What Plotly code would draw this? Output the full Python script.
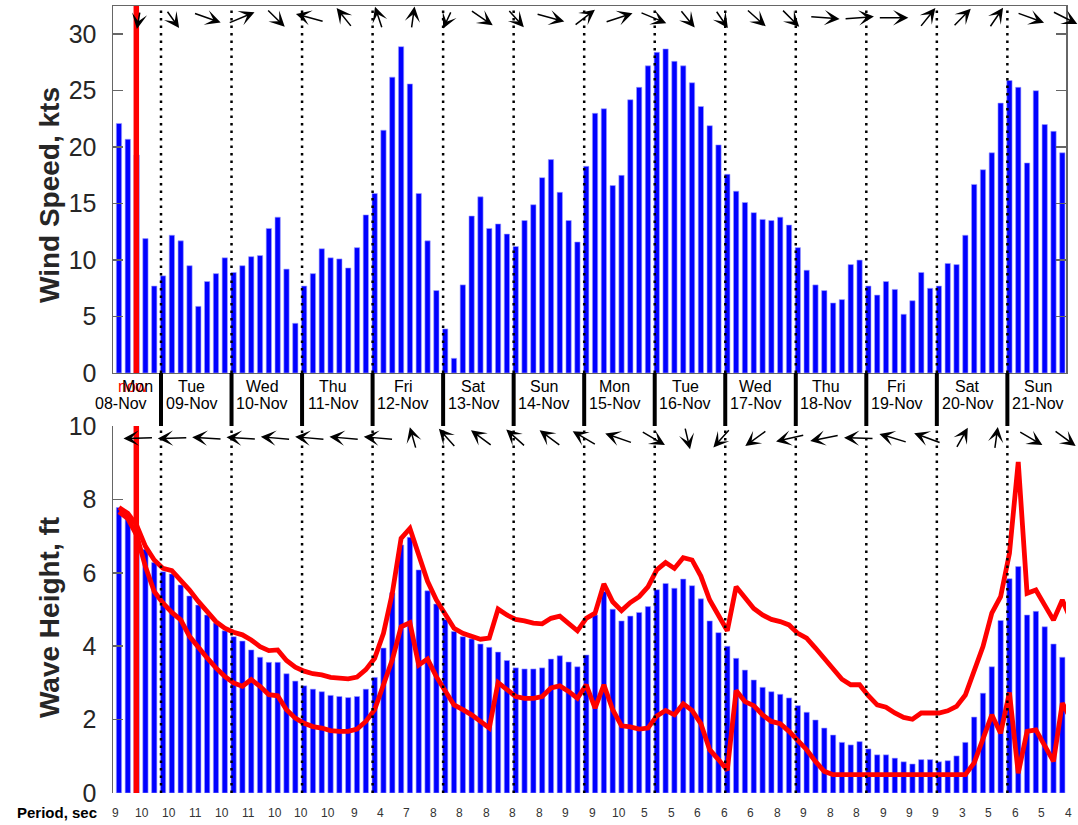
import numpy as np
import pandas as pd
import plotly.graph_objects as go

# ---------------- data ----------------
start_time = "2021-11-08 09:42"      # first 3-hourly forecast step
step_hours = 3
now_time = "2021-11-08 15:36"
x_start, x_end = "2021-11-08 07:40", "2021-11-21 19:57"
arrow_first, arrow_last = "2021-11-08 16:20", "2021-11-21 19:34"

wind_speed_kts = [
    22.1, 20.7, 19.3, 11.9, 7.7, 8.6, 12.2, 11.7, 9.5, 5.9,
    8.1, 8.8, 10.2, 8.9, 9.5, 10.3, 10.4, 12.8, 13.8, 9.2,
    4.4, 7.7, 8.8, 11.0, 10.2, 10.1, 9.3, 11.1, 14.0, 15.9,
    21.5, 26.2, 28.9, 25.6, 15.9, 11.7, 7.3, 3.9, 1.3, 7.8,
    13.9, 15.6, 12.8, 13.2, 12.3, 11.2, 13.5, 14.9, 17.3, 18.9,
    16.0, 13.5, 11.6, 18.3, 23.0, 23.4, 16.6, 17.5, 24.2, 25.3,
    27.2, 28.4, 28.7, 27.6, 27.2, 25.7, 23.6, 21.9, 20.2, 17.6,
    16.1, 15.1, 14.2, 13.6, 13.5, 13.8, 13.1, 11.1, 9.1, 7.8,
    7.3, 6.2, 6.5, 9.6, 10.0, 7.7, 6.9, 8.1, 7.4, 5.2,
    6.4, 8.9, 7.5, 7.7, 9.7, 9.6, 12.2, 16.7, 18.0, 19.5,
    23.9, 25.9, 25.3, 18.6, 25.0, 22.0, 21.4, 19.5]

wave_height_ft = [
    7.78, 7.55, 7.2, 6.64, 6.28, 6.03, 5.97, 5.67, 5.37, 5.12,
    4.85, 4.63, 4.42, 4.26, 4.14, 3.9, 3.7, 3.56, 3.56, 3.25,
    3.05, 2.92, 2.83, 2.76, 2.66, 2.63, 2.6, 2.63, 2.83, 3.15,
    3.95, 5.46, 6.76, 6.97, 6.08, 5.51, 5.15, 4.73, 4.4, 4.26,
    4.2, 4.06, 3.97, 3.84, 3.61, 3.41, 3.38, 3.38, 3.41, 3.65,
    3.74, 3.57, 3.44, 3.76, 4.85, 5.49, 5.01, 4.69, 4.82, 4.92,
    5.08, 5.54, 5.71, 5.58, 5.83, 5.65, 5.29, 4.69, 4.37, 4.0,
    3.67, 3.35, 3.08, 2.88, 2.76, 2.69, 2.59, 2.38, 2.2, 1.99,
    1.77, 1.58, 1.38, 1.31, 1.4, 1.2, 1.04, 1.04, 0.95, 0.85,
    0.79, 0.91, 0.91, 0.85, 0.88, 1.01, 1.38, 2.07, 2.72, 3.44,
    4.7, 5.84, 6.17, 4.85, 4.95, 4.53, 4.06, 3.7]

wave_upper_ft = [
    7.78, 7.62, 7.30, 6.72, 6.35, 6.12, 6.06, 5.81, 5.53, 5.22,
    4.92, 4.67, 4.49, 4.38, 4.31, 4.17, 3.99, 3.88, 3.90, 3.61,
    3.43, 3.32, 3.25, 3.22, 3.15, 3.13, 3.11, 3.16, 3.36, 3.67,
    4.35, 5.44, 6.94, 7.21, 6.49, 5.77, 5.26, 4.90, 4.49, 4.35,
    4.28, 4.19, 4.22, 5.01, 4.85, 4.73, 4.69, 4.63, 4.61, 4.76,
    4.82, 4.63, 4.42, 4.76, 4.90, 5.70, 5.21, 4.97, 5.19, 5.35,
    5.62, 6.08, 6.28, 6.12, 6.41, 6.35, 5.91, 5.26, 4.83, 4.42,
    5.62, 5.30, 5.03, 4.85, 4.73, 4.67, 4.58, 4.35, 4.22, 3.95,
    3.67, 3.40, 3.10, 2.95, 2.95, 2.65, 2.40, 2.34, 2.18, 2.06,
    2.01, 2.18, 2.19, 2.18, 2.24, 2.36, 2.67, 3.31, 3.99, 4.90,
    5.35, 6.53, 9.02, 5.44, 5.53, 5.12, 4.71, 5.26, 4.70]

wave_lower_ft = [
    7.66, 7.48, 7.03, 6.17, 5.49, 5.17, 4.92, 4.72, 4.27, 3.95,
    3.68, 3.41, 3.18, 3.00, 2.91, 3.09, 2.91, 2.68, 2.65, 2.27,
    2.04, 1.90, 1.81, 1.77, 1.70, 1.68, 1.68, 1.74, 1.95, 2.27,
    2.91, 3.63, 4.53, 4.64, 3.49, 3.65, 3.17, 2.77, 2.40, 2.27,
    2.13, 1.95, 1.77, 3.01, 2.83, 2.63, 2.58, 2.58, 2.63, 2.86,
    2.92, 2.77, 2.58, 2.95, 2.31, 2.95, 2.27, 1.83, 1.80, 1.74,
    1.77, 2.10, 2.25, 2.13, 2.43, 2.25, 1.89, 1.18, 0.91, 0.62,
    2.79, 2.49, 2.38, 2.13, 1.95, 1.89, 1.68, 1.45, 1.18, 0.86,
    0.59, 0.5, 0.5, 0.5, 0.5, 0.5, 0.5, 0.5, 0.5, 0.5,
    0.5, 0.5, 0.5, 0.5, 0.5, 0.5, 0.5, 0.82, 1.45, 2.13,
    1.63, 2.74, 0.54, 1.68, 1.72, 1.31, 0.86, 2.45, 2.0]

period_sec = [9, 10, 10, 11, 10, 11, 10, 10, 10, 9, 4, 7,
              8, 8, 8, 8, 8, 9, 9, 10, 5, 5, 6, 6, 6, 8, 9, 8, 8,
              9, 9, 9, 3, 5, 6, 5, 4]

# direction the arrow points to (deg, 0 = up, 90 = right)
wind_dir_deg = [186, 155, 115, 61, 143, 290, 329, 346, 6, 196, 132, 148, 110, 44,
                66, 119, 151, 156, 140, 144, 96, 84, 90, 31, 36, 27, 116, 124]
wave_dir_deg = [268, 268, 275, 275, 277, 277, 277, 277, 348, 326, 315, 320, 315, 308,
                295, 128, 170, 214, 226, 253, 255, 272, 292, 296, 23, 6, 128, 134]

day_names = ["Mon", "Tue", "Wed", "Thu", "Fri", "Sat", "Sun",
             "Mon", "Tue", "Wed", "Thu", "Fri", "Sat", "Sun"]
day_dates = ["08-Nov", "09-Nov", "10-Nov", "11-Nov", "12-Nov", "13-Nov", "14-Nov",
             "15-Nov", "16-Nov", "17-Nov", "18-Nov", "19-Nov", "20-Nov", "21-Nov"]

# ---------------- derived ----------------
times = pd.Timestamp(start_time) + pd.to_timedelta(step_hours * np.arange(len(wave_upper_ft)), unit="h")
t_bars = times[:len(wind_speed_kts)]
day_starts = pd.date_range("2021-11-08", periods=len(day_names), freq="D")
arrow_times = pd.date_range(arrow_first, arrow_last, periods=len(wind_dir_deg))
bar_w_ms = 1.8 * 3600 * 1000

FONT = "Liberation Sans, Arial, Helvetica, sans-serif"
AX = "#666666"
TXT = "#262626"

fig = go.Figure()
fig.add_trace(go.Bar(x=t_bars, y=wind_speed_kts, width=bar_w_ms, xaxis="x", yaxis="y",
                     marker=dict(color="#0000ff", line=dict(color="#a0a0ff", width=0.6)),
                     showlegend=False, hoverinfo="skip"))
fig.add_trace(go.Bar(x=t_bars, y=wave_height_ft, width=bar_w_ms, xaxis="x2", yaxis="y2",
                     marker=dict(color="#0000ff", line=dict(color="#a0a0ff", width=0.6)),
                     showlegend=False, hoverinfo="skip"))
for series in (wave_upper_ft, wave_lower_ft):
    fig.add_trace(go.Scatter(x=times, y=series, mode="lines", xaxis="x2", yaxis="y2",
                             line=dict(color="#ff0000", width=4.8), showlegend=False,
                             hoverinfo="skip"))

shapes = []
for d in day_starts[1:]:
    for xr, yr in (("x", "y domain"), ("x2", "y2 domain")):
        shapes.append(dict(type="line", xref=xr, yref=yr, x0=d, x1=d, y0=0, y1=1,
                           line=dict(color="black", width=2.5, dash="2.5px,5px"), layer="above"))
    shapes.append(dict(type="line", xref="x", yref="paper", x0=d, x1=d, y0=0.4663, y1=0.5337,
                       line=dict(color="black", width=4), layer="above"))
for xr, yr in (("x", "y domain"), ("x2", "y2 domain")):
    shapes.append(dict(type="line", xref=xr, yref=yr, x0=now_time, x1=now_time, y0=0, y1=1,
                       line=dict(color="#ff0000", width=5.5), layer="above"))

ann = []
# direction arrows
LX, LY = 30.0, 22.5
for dirs, yr, yc in ((wind_dir_deg, "y domain", 0.968), (wave_dir_deg, "y2 domain", 0.967)):
    for t, deg in zip(arrow_times, dirs):
        th = np.radians(deg)
        dx = LX * np.sin(th)
        dy = -LY * np.cos(th)
        ann.append(dict(x=t, y=yc, xref="x", yref=yr, text="", showarrow=True,
                        axref="pixel", ayref="pixel", ax=-dx, ay=-dy,
                        xshift=dx / 2, yshift=-dy / 2, arrowhead=3, arrowsize=1.7,
                        arrowwidth=1.5, arrowcolor="black", standoff=0, startstandoff=0))

# now label
ann.append(dict(x=now_time, y=0.5159, xref="x", yref="paper", text="now", showarrow=False,
                font=dict(family=FONT, size=16, color="#ff0000"), xshift=-3))
# day labels
for i, (d, n, s) in enumerate(zip(day_starts, day_names, day_dates)):
    xc = d + pd.Timedelta(hours=10.44)
    ann.append(dict(x=xc, y=0.5159, xref="x", yref="paper", text=n, showarrow=False,
                    font=dict(family=FONT, size=16, color="black"),
                    xshift=16 if i == 0 else 0))
    ann.append(dict(x=xc, y=0.4943, xref="x", yref="paper", text=s, showarrow=False,
                    font=dict(family=FONT, size=16, color="black")))
# period labels (anchored 1.9 h earlier, shifted back in pixels, so the last one stays in range)
px_per_hour = 953 / ((pd.Timestamp(x_end) - pd.Timestamp(x_start)).total_seconds() / 3600)
for j, p in enumerate(period_sec):
    ann.append(dict(x=times[3 * j] - pd.Timedelta(hours=1.9), y=-0.0254, xref="x2", yref="paper",
                    text=str(p), showarrow=False, xshift=1.9 * px_per_hour - 3, yanchor="middle",
                    xanchor="center", font=dict(family=FONT, size=12, color="#333333")))
ann.append(dict(x=-0.0147, y=-0.0254, xref="paper", yref="paper", text="<b>Period, sec</b>",
                showarrow=False, xanchor="right", yanchor="middle",
                font=dict(family=FONT, size=15, color="black")))
# axis titles
ann.append(dict(x=-0.0666, y=0.5, xref="paper", yref="y domain", text="<b>Wind Speed, kts</b>",
                textangle=-90, showarrow=False, yshift=-6, xanchor="center", yanchor="middle",
                font=dict(family=FONT, size=28, color=TXT)))
ann.append(dict(x=-0.0666, y=0.5, xref="paper", yref="y2 domain", text="<b>Wave Height, ft</b>",
                textangle=-90, showarrow=False, yshift=-8, xanchor="center", yanchor="middle",
                font=dict(family=FONT, size=28, color=TXT)))

yax_common = dict(ticks="inside", ticklen=10, tickwidth=1.5, tickcolor=AX, showline=True,
                  linecolor=AX, linewidth=1.5, showgrid=False, zeroline=False, automargin=False,
                  tickfont=dict(family=FONT, size=25, color=TXT), ticklabelstandoff=10)

fig.update_layout(
    template="none",
    width=1078, height=825, autosize=False,
    margin=dict(l=113, r=12, t=6, b=32, pad=0),
    paper_bgcolor="white", plot_bgcolor="white",
    showlegend=False, barmode="overlay", hovermode=False,
    xaxis=dict(domain=[0, 1], anchor="y", range=[x_start, x_end], type="date", automargin=False,
               showticklabels=False, ticks="", showgrid=False, zeroline=False,
               showline=True, mirror=True, linecolor=AX, linewidth=1.5),
    yaxis=dict(domain=[0.5337, 1], anchor="x", range=[0, 32.5],
               tickvals=[0, 5, 10, 15, 20, 25, 30], mirror="ticks", **yax_common),
    xaxis2=dict(domain=[0, 1], anchor="y2", matches="x", type="date", automargin=False,
                showticklabels=False, ticks="", showgrid=False, zeroline=False, showline=False),
    yaxis2=dict(domain=[0, 0.4663], anchor="x2", range=[0, 10],
                tickvals=[0, 2, 4, 6, 8, 10], **yax_common),
    shapes=shapes, annotations=ann,
)

fig.write_html("out.html", config={"displayModeBar": False, "staticPlot": True},
               post_script="document.body.style.margin='0px';")
